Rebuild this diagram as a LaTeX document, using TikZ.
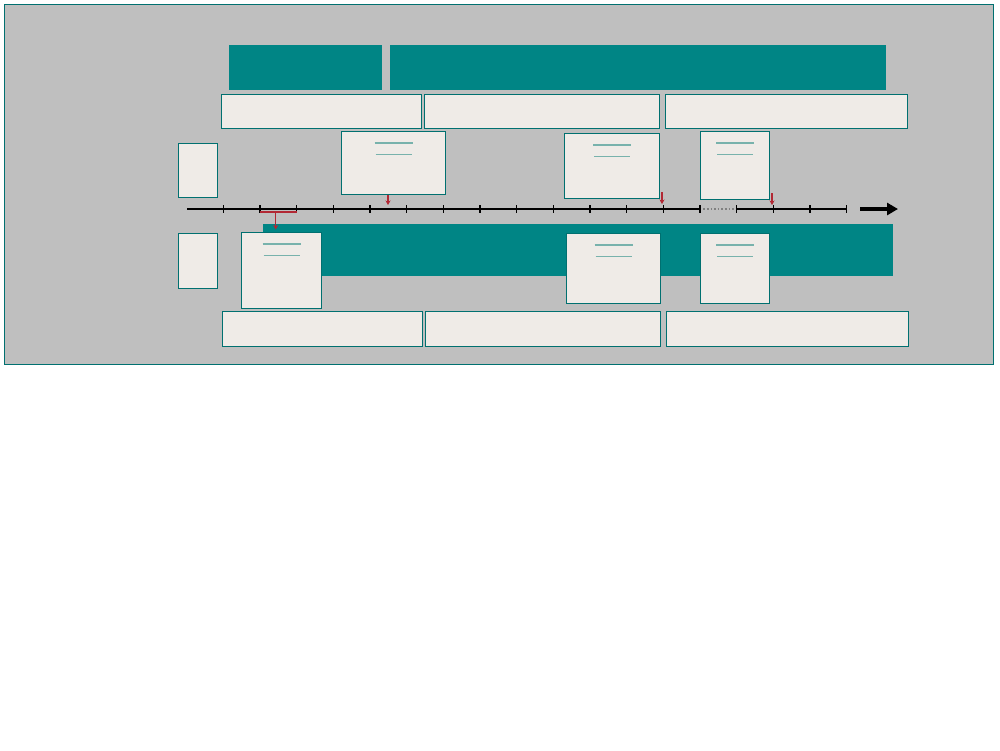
\documentclass[tikz,border=0pt]{standalone}
\usetikzlibrary{arrows.meta}
\definecolor{bggray}{RGB}{191,191,191}
\definecolor{tealfill}{RGB}{0,133,133}
\definecolor{tealline}{RGB}{0,112,112}
\definecolor{boxfill}{RGB}{239,235,231}
\definecolor{noteteal}{RGB}{120,178,172}
\definecolor{markred}{RGB}{178,40,52}
\tikzset{
  px/.style={x=1pt,y=-1pt},
  frame/.style={draw=tealline, fill=bggray, line width=1.3pt},
  tealbar/.style={fill=tealfill, draw=none, inner sep=0pt, anchor=north west},
  pale/.style={fill=boxfill, draw=tealline, line width=1.2pt, inner sep=0pt, anchor=north west},
  noteline/.style={draw=noteteal, line width=1.2pt},
  axis/.style={draw=black, line width=1.3pt},
  tick/.style={draw=black, line width=1.3pt},
  gapaxis/.style={draw=gray, line width=1.6pt, dotted},
  redmark/.style={draw=markred, line width=1.4pt, -{Stealth[length=4.5pt,width=5pt]}},
  redbar/.style={draw=markred, line width=2pt},
  bigarrow/.style={draw=black, line width=3.6pt, -{Triangle[length=11pt,width=12pt]}}
}
\begin{document}
\begin{tikzpicture}[px]
\useasboundingbox (0,0) rectangle (1000,750);
\fill[white] (0,0) rectangle (1000,750);
% outer frame
\node[frame, inner sep=0pt, minimum width=989pt, minimum height=360pt, anchor=north west] (frame) at (4,4) {};
% top teal bars
\node[tealbar, minimum width=153pt, minimum height=45pt] (topA) at (229,45) {};
\node[tealbar, minimum width=496pt, minimum height=45pt] (topB) at (390,45) {};
% upper row boxes
\node[pale, minimum width=200pt, minimum height=34pt] (rowTA) at (221,94) {};
\node[pale, minimum width=235pt, minimum height=34pt] (rowTB) at (424,94) {};
\node[pale, minimum width=242pt, minimum height=34pt] (rowTC) at (665,94) {};
% lower teal band
\node[tealbar, minimum width=630pt, minimum height=52pt] (band) at (263,224) {};
% left small boxes
\node[pale, minimum width=39pt, minimum height=54pt] (leftU) at (178,143) {};
\node[pale, minimum width=39pt, minimum height=55pt] (leftL) at (178,233) {};
% upper notes
\node[pale, minimum width=104pt, minimum height=63pt] (noteU1) at (341,131) {};
\node[pale, minimum width=95pt, minimum height=65pt] (noteU2) at (564,133) {};
\node[pale, minimum width=69pt, minimum height=68pt] (noteU3) at (700,131) {};
% lower notes
\node[pale, minimum width=80pt, minimum height=76pt] (noteL1) at (241,232) {};
\node[pale, minimum width=94pt, minimum height=70pt] (noteL2) at (566,233) {};
\node[pale, minimum width=69pt, minimum height=70pt] (noteL3) at (700,233) {};
% note lines
\foreach \n in {noteU1,noteU2,noteU3,noteL1,noteL2,noteL3}{
  \draw[noteline] ([xshift=-19pt,yshift=-12pt]\n.north) -- ([xshift=19pt,yshift=-12pt]\n.north);
  \draw[noteline] ([xshift=-18pt,yshift=-23.5pt]\n.north) -- ([xshift=18pt,yshift=-23.5pt]\n.north);
}
% bottom row boxes
\node[pale, minimum width=200pt, minimum height=35pt] (rowBA) at (222,311) {};
\node[pale, minimum width=235pt, minimum height=35pt] (rowBB) at (425,311) {};
\node[pale, minimum width=242pt, minimum height=35pt] (rowBC) at (666,311) {};
% timeline
\coordinate (t0) at (187,209);
\coordinate (gapA) at (699.7,209);
\coordinate (gapB) at (736.3,209);
\coordinate (tEnd) at (846.7,209);
\draw[axis] (t0) -- (gapA);
\draw[gapaxis] (gapA) -- (gapB);
\draw[axis] (gapB) -- (tEnd);
\foreach \k in {0,...,17}{
  \draw[tick] ({223.3+36.67*\k},205) -- ({223.3+36.67*\k},213);
}
% big arrow
\coordinate (arrS) at (860,209);
\coordinate (arrE) at (898,209);
\draw[bigarrow] (arrS) -- (arrE);
% red markers
\coordinate (m1) at (388,205);
\coordinate (m2) at (662,204);
\coordinate (m3) at (772,205);
\draw[redmark] (noteU1.south -| m1) -- (m1);
\draw[redmark] (662,192) -- (m2);
\draw[redmark] (772,193) -- (m3);
\coordinate (brL) at (259.5,212);
\coordinate (brR) at (297,212);
\coordinate (brM) at (275.7,212);
\coordinate (brT) at (275.7,229.5);
\draw[redbar] (brL) -- (brR);
\draw[redmark] (brM) -- (brT);
\end{tikzpicture}
\end{document}
